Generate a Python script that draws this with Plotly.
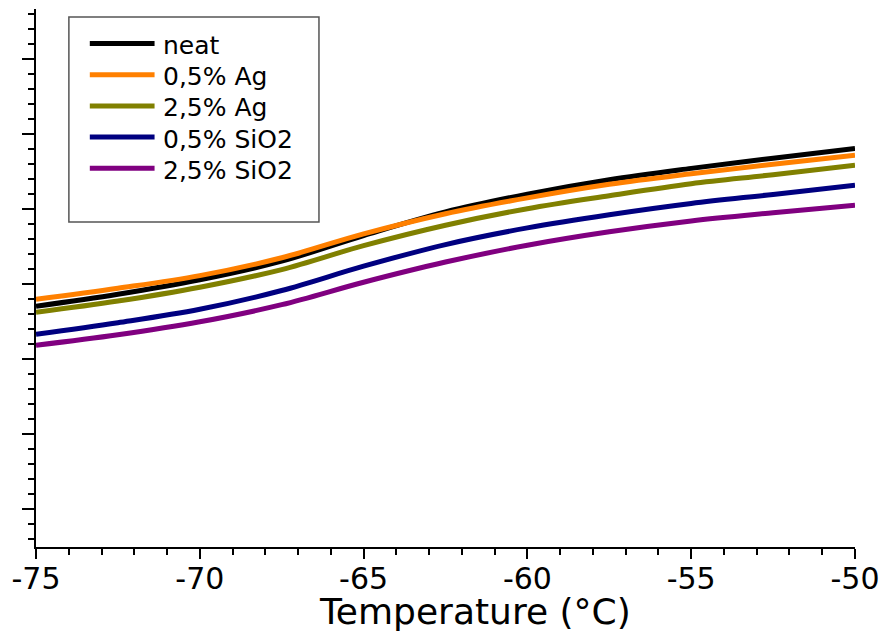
import plotly.graph_objects as go

temperature = [-75, -72.5, -70, -67.5, -65, -62.5, -60, -57.5, -55, -52.5, -50]
neat = [2.707, 2.867, 3.060, 3.308, 3.649, 3.964, 4.200, 4.393, 4.544, 4.680, 4.809]
ag_05 = [2.800, 2.947, 3.115, 3.353, 3.671, 3.940, 4.151, 4.332, 4.473, 4.600, 4.720]
ag_25 = [2.627, 2.776, 2.960, 3.196, 3.515, 3.787, 4.007, 4.180, 4.340, 4.460, 4.587]
sio2_05 = [2.333, 2.488, 2.667, 2.917, 3.241, 3.529, 3.751, 3.927, 4.077, 4.197, 4.320]
sio2_25 = [2.187, 2.327, 2.500, 2.728, 3.027, 3.296, 3.520, 3.699, 3.844, 3.953, 4.053]

series_names = ["neat", "0,5% Ag", "2,5% Ag", "0,5% SiO2", "2,5% SiO2"]
series_values = [neat, ag_05, ag_25, sio2_05, sio2_25]
series_colors = ["#000000", "#FF8000", "#808000", "#000080", "#800080"]
x_ticks = [-75, -70, -65, -60, -55, -50]

FONT = "DejaVu Sans, Liberation Sans, Arial, sans-serif"

# pixel geometry of the plot area (for converting legend placement)
W, H = 889, 632
L, R, T, B = 36, 31, 9, 85
PW, PH = W - L - R, H - T - B


def px_x(px):
    return (px - L) / PW


def px_y(py):
    return (H - B - py) / PH


fig = go.Figure()
for name, vals, col in zip(series_names, series_values, series_colors):
    fig.add_trace(go.Scatter(x=temperature, y=vals, mode="lines", name=name,
                             showlegend=False,
                             line=dict(color=col, width=5, shape="spline", smoothing=1.0)))

xr = [-75, -50]
yr = [-0.5, 6.667]
axis_common = dict(showline=True, linecolor="black", linewidth=2, showgrid=False,
                   zeroline=False, tickcolor="black", tickwidth=2)

# legend drawn as a boxed key (lines + text) in paper coordinates
shapes = [dict(type="rect", xref="paper", yref="paper",
               x0=px_x(69), x1=px_x(320), y0=px_y(222), y1=px_y(17),
               line=dict(color="#555555", width=1.5), fillcolor="rgba(0,0,0,0)")]
annotations = []
for i, (name, col) in enumerate(zip(series_names, series_colors)):
    ry = 43.5 + 31.2 * i
    shapes.append(dict(type="line", xref="paper", yref="paper",
                       x0=px_x(90), x1=px_x(155), y0=px_y(ry), y1=px_y(ry),
                       line=dict(color=col, width=5)))
    annotations.append(dict(text=name, xref="paper", yref="paper",
                            x=px_x(161), y=px_y(ry + 2), xanchor="left", yanchor="middle",
                            showarrow=False, font=dict(size=25, family=FONT, color="black")))

annotations.append(dict(text="Temperature (°C)", xref="paper", yref="paper",
                        x=px_x(477), y=px_y(611),
                        xanchor="center", yanchor="middle", showarrow=False,
                        font=dict(size=36, family=FONT, color="black")))

fig.update_layout(
    width=W, height=H,
    margin=dict(l=L, r=R, t=T, b=B),
    paper_bgcolor="white", plot_bgcolor="white",
    font=dict(family=FONT, color="black"),
    showlegend=False,
    xaxis=dict(range=xr, ticks="outside", ticklen=10, tickvals=x_ticks,
               ticktext=[str(v) for v in x_ticks],
               tickfont=dict(size=30, family=FONT),
               ticklabelstandoff=-6,
               minor=dict(dtick=1, ticks="outside", ticklen=6, tickcolor="black", tickwidth=2),
               **axis_common),
    xaxis2=dict(range=xr, overlaying="x", side="top", ticks="inside", ticklen=10,
                tickvals=x_ticks, showticklabels=False,
                minor=dict(dtick=1, ticks="inside", ticklen=6, tickcolor="black", tickwidth=2),
                **axis_common),
    yaxis=dict(range=yr, ticks="outside", ticklen=12, dtick=1, tick0=0,
               showticklabels=False,
               minor=dict(dtick=0.2, ticks="outside", ticklen=6, tickcolor="black", tickwidth=2),
               **axis_common),
    yaxis2=dict(range=yr, overlaying="y", side="right", ticks="inside", ticklen=12,
                dtick=1, tick0=0, showticklabels=False,
                minor=dict(dtick=0.2, ticks="inside", ticklen=6, tickcolor="black", tickwidth=2),
                **axis_common),
    shapes=shapes,
    annotations=annotations,
)

fig.write_html("out.html")
